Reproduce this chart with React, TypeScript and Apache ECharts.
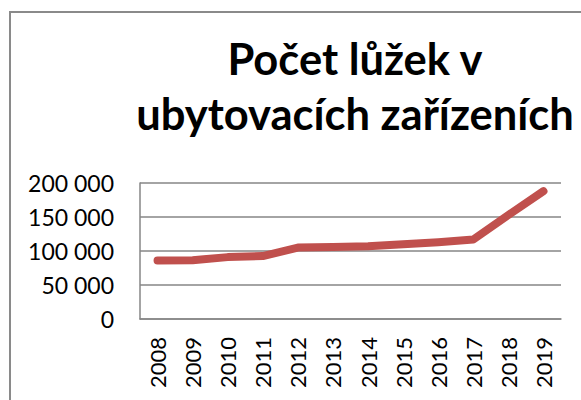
import React, { useEffect, useRef } from "react";
import * as echarts from "echarts";

const years = ["2008", "2009", "2010", "2011", "2012", "2013", "2014", "2015", "2016", "2017", "2018", "2019"];
const beds = [86000, 86500, 91000, 92500, 105000, 106000, 107000, 110000, 113000, 117000, 153000, 188000];
const yTicks = { min: 0, max: 200000, interval: 50000 };
const titleLines = ["Počet lůžek v", "ubytovacích zařízeních"];

const fmt = (v: number) => {
  if (v === 0) return "0";
  const s = String(Math.round(v));
  return s.replace(/\B(?=(\d{3})+(?!\d))/g, " ");
};

export default function App() {
  const ref = useRef<HTMLDivElement>(null);
  useEffect(() => {
    if (!ref.current) return;
    const chart = echarts.init(ref.current, null, { renderer: "svg" });
    chart.setOption({
      animation: false,
      backgroundColor: "#ffffff",
      graphic: [
        {
          type: "rect",
          shape: { x: 10, y: 12, width: 700, height: 500 },
          style: { fill: "none", stroke: "#8a8a8a", lineWidth: 2 },
          z: 0,
        },
        {
          type: "text",
          x: 355,
          y: 30,
          style: {
            text: titleLines.join("\n"),
            fontFamily: "Lato",
            fontWeight: "bold",
            fontSize: 43.5,
            lineHeight: 55,
            fill: "#000000",
            align: "center",
            verticalAlign: "top",
          },
        },
      ],
      grid: { left: 140, right: 20, top: 183, bottom: 81, containLabel: false },
      xAxis: {
        type: "category",
        data: years,
        boundaryGap: true,
        axisLine: { show: true, lineStyle: { color: "#868686", width: 1.5 } },
        axisTick: { show: false },
        axisLabel: {
          rotate: 90,
          interval: 0,
          margin: 18,
          color: "#000000",
          fontFamily: "Lato",
          fontSize: 22,
        },
      },
      yAxis: {
        type: "value",
        min: yTicks.min,
        max: yTicks.max,
        interval: yTicks.interval,
        axisLine: { show: true, lineStyle: { color: "#868686", width: 1.5 } },
        axisTick: { show: false },
        splitLine: { show: true, lineStyle: { color: "#868686", width: 1.5 } },
        axisLabel: {
          margin: 26,
          color: "#000000",
          fontFamily: "Lato",
          fontSize: 23,
          formatter: (v: number) => fmt(v),
        },
      },
      series: [
        {
          type: "line",
          data: beds,
          smooth: false,
          symbol: "none",
          lineStyle: { color: "#C0504D", width: 8, cap: "round", join: "round" },
        },
      ],
    });
    return () => chart.dispose();
  }, []);
  return (
    <div
      ref={ref}
      style={{ position: "absolute", left: 0, top: 0, width: 581, height: 400 }}
    />
  );
}
